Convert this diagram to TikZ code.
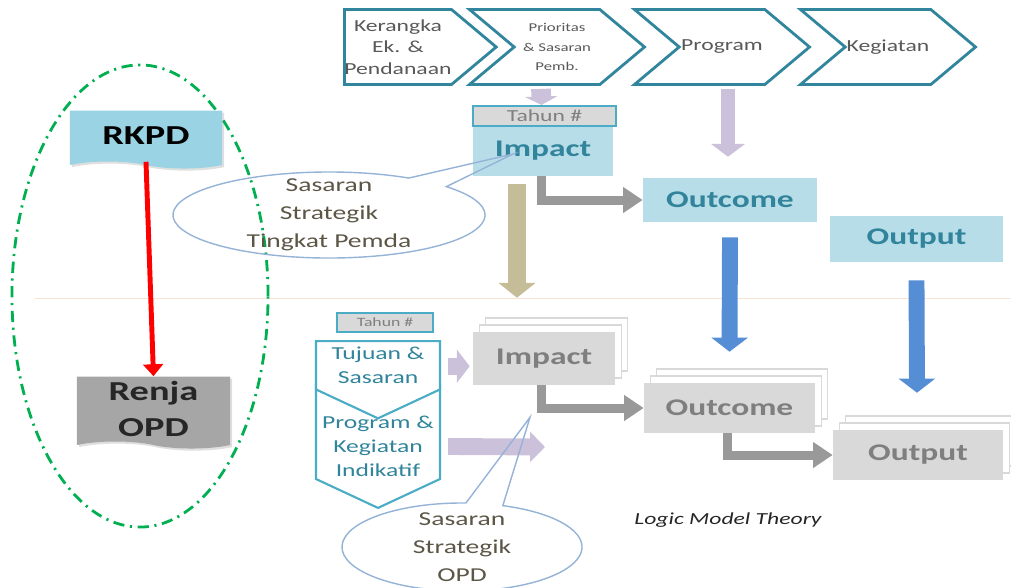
\documentclass[tikz,border=0pt]{standalone}
\usepackage{fontspec}
\setmainfont{Carlito}[FakeStretch=1.4]
\usetikzlibrary{shapes.symbols,shapes.callouts,shapes.geometric,arrows.meta,shadows,calc}

\definecolor{chevline}{HTML}{31859C}
\definecolor{cyanline}{HTML}{4BACC6}
\definecolor{tealtext}{HTML}{31849B}
\definecolor{lightblue}{HTML}{B7DEE8}
\definecolor{boxgray}{HTML}{D9D9D9}
\definecolor{graytext}{HTML}{7F7F7F}
\definecolor{darktext}{HTML}{595959}
\definecolor{arrowgray}{HTML}{999999}
\definecolor{lilac}{HTML}{CCC1DA}
\definecolor{arrowblue}{HTML}{558ED5}
\definecolor{khaki}{HTML}{C4BD97}
\definecolor{rkpdblue}{HTML}{9AD3E4}
\definecolor{renjagray}{HTML}{A6A6A6}
\definecolor{greenline}{HTML}{00B050}
\definecolor{calloutline}{HTML}{95B3D7}
\definecolor{callouttext}{HTML}{5B5646}
\definecolor{peach}{HTML}{FBE3D2}

\begin{document}
\begin{tikzpicture}
[x=0.025cm,y=-0.025cm,
chevron/.style={signal,signal to=east,signal from=west,signal pointer angle=80,
  draw=chevline,line width=2pt,fill=white,minimum width=4.375cm,minimum height=1.875cm,
  inner sep=0pt,align=center,text=darktext,font=\fontsize{12}{15.5}\selectfont},
stepdown/.style={signal,signal to=south,signal from=north,signal pointer angle=130,
  draw=cyanline,line width=1.5pt,fill=white,minimum width=3.1cm,
  inner sep=0pt,align=center,text=tealtext,font=\fontsize{13}{17}\selectfont},
yearbox/.style={draw=cyanline,line width=1.5pt,fill=boxgray,text=graytext,inner sep=0pt},
bluebox/.style={fill=lightblue,text=tealtext,inner sep=0pt,font=\bfseries\fontsize{17}{20}\selectfont},
graybox/.style={fill=boxgray,text=graytext,inner sep=0pt,font=\bfseries\fontsize{17}{20}\selectfont,
  copy shadow={shadow xshift=9pt,shadow yshift=10pt,fill=white,draw=boxgray,line width=1pt},
  copy shadow={shadow xshift=4.5pt,shadow yshift=5pt,fill=white,draw=boxgray,line width=1pt}},
doc/.style={tape,tape bend top=none,tape bend bottom=out and in,tape bend height=5pt,
  inner sep=0pt,align=center,font=\bfseries\fontsize{19.5}{26}\selectfont,
  drop shadow={opacity=.25,shadow xshift=1.5pt,shadow yshift=-1.5pt}},
note/.style={ellipse callout,draw=calloutline,line width=1pt,callout pointer arc=18},
notetext/.style={align=center,text=callouttext,font=\fontsize{14}{20}\selectfont},
rkpdgroup/.style={ellipse,draw=greenline,line width=2pt,
  dash pattern=on 8pt off 4pt on 1.5pt off 4pt,minimum width=6.4cm,minimum height=11.55cm},
fat/.style args={#1/#2/#3}{line width=#1,-{Triangle[width=#2,length=#3]}}]
\useasboundingbox (0,0) rectangle (1011,587);
% garis batas Pemda / OPD
\draw[peach,line width=.6pt] (35,298) -- (1011,298);
\node[rkpdgroup] (plan) at (140,296) {};
% baris chevron atas
\node[chevron,signal from=nowhere,minimum width=3.525cm,anchor=west] (kerangka) at (343,47) {Kerangka\\Ek. \&\\Pendanaan};
\node[chevron,font=\fontsize{8.5}{14}\selectfont] (prioritas) at (557,47) {Prioritas\\\& Sasaran\\Pemb.};
\node[chevron] (program) at (722,47) {Program};
\node[chevron] (kegiatan) at (888,47) {Kegiatan};
% tingkat Pemda
\node[bluebox,minimum width=3.5cm,minimum height=1.225cm] (impactA) at (543,151) {Impact};
\node[yearbox,minimum width=3.575cm,minimum height=.5cm,font=\fontsize{12}{14}\selectfont] (tahunA) at (544.5,116) {Tahun \#};
\node[bluebox,minimum width=4.35cm,minimum height=1.1cm] (outcomeA) at (730,200) {Outcome};
\node[bluebox,minimum width=4.325cm,minimum height=1.15cm] (outputA) at (916.5,239) {Output};
% tingkat OPD
\node[yearbox,minimum width=2.4cm,minimum height=.475cm,font=\fontsize{9}{11}\selectfont] (tahunB) at (385,322.5) {Tahun \#};
\node[stepdown,minimum height=2.925cm] (progkeg) at (378,446.5) {Program \&\\Kegiatan\\Indikatif};
\node[stepdown,signal from=nowhere,minimum height=1.75cm,anchor=north] (tujuan) at (378,340) {Tujuan \&\\Sasaran};
\node[graybox,minimum width=3.55cm,minimum height=1.325cm] (impactB) at (544,358.5) {Impact};
\node[graybox,minimum width=4.275cm,minimum height=1.25cm] (outcomeB) at (729.5,408) {Outcome};
\node[graybox,minimum width=4.25cm,minimum height=1.25cm] (outputB) at (918,455) {Output};
% dokumen
\node[doc,fill=rkpdblue,minimum width=3.8cm,minimum height=1.45cm] (rkpd) at (146,136) {RKPD};
\node[doc,fill=renjagray,text=black!85,minimum width=3.825cm,minimum height=1.8cm] (renja) at (153.5,409) {Renja\\OPD};
% panah
\draw[fat=3.5pt/14pt/8.5pt,red] (rkpd.south) -- (renja.north);
\draw[fat=14pt/23pt/6pt,lilac] ($(prioritas.south)+(-16,3)$) -- ($(tahunA.north)+(-3,0)$);
\draw[fat=10.6pt/24pt/9.2pt,lilac] ($(program.south)+(6,3)$) -- ($(outcomeA.north)+(-2,-21)$);
\draw[fat=6.4pt/17.7pt/14pt,arrowgray] ($(impactA.south)+(-2,0)$) |- (outcomeA.west);
\draw[fat=12.8pt/26pt/10.6pt,khaki] ($(impactA.south)+(-26,8)$) -- ($(impactB.north)+(-27,-34)$);
\draw[fat=11.3pt/25.5pt/10pt,arrowblue] ($(outcomeA.south)+(0,15)$) -- ($(outcomeB.north)+(0,-31)$);
\draw[fat=11.3pt/25.5pt/10pt,arrowblue] ($(outputA.south)+(0,18)$) -- ($(outputB.north)+(-1,-37)$);
\draw[fat=12pt/23.4pt/9.2pt,lilac] ($(tujuan.east)+(7,1)$) coordinate (tjstart) -- ($(tjstart -| impactB.west)+(-3,0)$);
\coordinate (lilacend) at (545,447);
\draw[fat=12pt/21pt/10.6pt,lilac] ($(progkeg.east)+(7,0)$) -- (lilacend);
\draw[fat=6.4pt/17.7pt/14pt,arrowgray] ($(impactB.south)+(-3,0)$) |- (outcomeB.west);
\draw[fat=6.4pt/17.7pt/14pt,arrowgray] ($(outcomeB.south)+(-2,0)$) |- (outputB.west);
% sasaran strategik
\node[note,minimum width=7.8cm,minimum height=2.15cm,callout absolute pointer={($(impactA.center)+(-30,3)$)}] (pemda) at (329,215) {};
\node[notetext] (pemdatext) at (pemda.center) {Sasaran\\Strategik\\Tingkat Pemda};
\node[note,minimum width=6cm,minimum height=2.2cm,callout absolute pointer={($(impactB.south)+(-14,32)$)}] (opd) at (462,547) {};
\node[notetext] (opdtext) at (opd.center) {Sasaran\\Strategik\\OPD};
\node[font=\itshape\fontsize{12}{14}\selectfont,text=black!85] (theory) at (728,520) {Logic Model Theory};
\end{tikzpicture}
\end{document}
